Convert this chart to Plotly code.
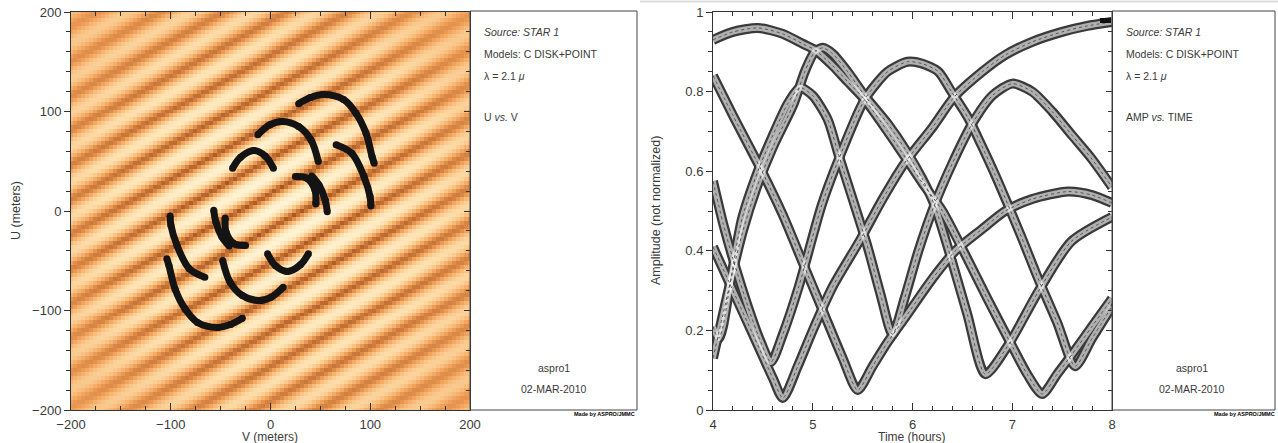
import numpy as np
import plotly.graph_objects as go

W, H = 1278, 443

# ---------------- uv tracks (V, U in meters), one half of each baseline ----------------
ARC1_V = [28.2, 40.0, 52.8, 73.2, 85.5, 95.7, 101.8, 103.9]
ARC1_U = [107.9, 114.0, 117.0, 112.0, 98.5, 78.3, 54.8, 48.0]
ARC2_V = [-12.7, -0.4, 11.9, 28.2, 40.5, 47.9]
ARC2_U = [76.6, 86.7, 90.0, 85.0, 71.6, 49.7]
ARC3_V = [-38.0, -30.0, -16.8, -5.0, 2.9]
ARC3_U = [43.0, 54.0, 60.8, 55.0, 43.0]
ARC4_V = [65.8, 81.4, 93.7, 99.8, 100.6]
ARC4_U = [66.6, 58.0, 34.6, 14.5, 5.0]
ARC5_V = [25.0, 36.4, 44.6, 45.4]
ARC5_U = [34.6, 33.0, 21.0, 7.0]
ARC6_V = [41.3, 48.7, 54.8, 56.9]
ARC6_U = [35.3, 26.0, 11.0, -0.7]

# ---------------- model parameters for the background map ----------------
POINT_FLUX = 0.5
DISK_FLUX = 0.5
FRINGE_PERIOD_U = 34.8   # m, fringe period along U
FRINGE_SLOPE = 0.55      # dU/dV of the fringes
DISK_SCALE = 240.0       # m, envelope scale
V_GRID = np.linspace(-200, 200, 101)
U_GRID = np.linspace(-200, 200, 101)

# ---------------- amplitude vs time ----------------
T_A = [4.0, 4.2, 4.45, 4.7, 4.9, 5.02, 5.2, 5.35, 5.52, 5.75, 5.94, 6.1, 6.3, 6.53, 6.75, 7.0, 7.15, 7.3, 7.45, 7.6, 7.8, 8.0]
A_A = [0.93, 0.95, 0.96, 0.945, 0.92, 0.905, 0.865, 0.825, 0.78, 0.70, 0.63, 0.57, 0.50, 0.39, 0.28, 0.16, 0.09, 0.04, 0.09, 0.14, 0.21, 0.28]
T_B = [4.0, 4.1, 4.2, 4.3, 4.44, 4.6, 4.81, 4.92, 5.02, 5.1, 5.2, 5.35, 5.52, 5.75, 5.94, 6.1, 6.22, 6.4, 6.55, 6.73, 6.96, 7.26, 7.59, 8.0]
A_B = [0.13, 0.24, 0.35, 0.45, 0.56, 0.66, 0.77, 0.85, 0.90, 0.91, 0.895, 0.85, 0.79, 0.72, 0.65, 0.58, 0.515, 0.37, 0.24, 0.09, 0.163, 0.297, 0.423, 0.485]
T_C = [4.0, 4.1, 4.2, 4.35, 4.48, 4.58, 4.7, 4.86, 5.09, 5.26, 5.52, 5.75, 5.95, 6.1, 6.26, 6.39, 6.56, 6.69, 6.83, 6.95, 7.1, 7.26, 7.45, 7.63, 7.8, 8.0]
A_C = [0.575, 0.47, 0.38, 0.26, 0.17, 0.12, 0.19, 0.31, 0.515, 0.63, 0.78, 0.85, 0.875, 0.87, 0.85, 0.80, 0.733, 0.666, 0.59, 0.52, 0.43, 0.33, 0.22, 0.11, 0.18, 0.26]
T_R = [4.0, 4.2, 4.4, 4.6, 4.7, 4.85, 5.0, 5.2, 5.47, 5.7, 5.92, 6.2, 6.42, 6.7, 6.93, 7.2, 7.5, 7.75, 8.0]
A_R = [0.41, 0.30, 0.19, 0.08, 0.03, 0.11, 0.2, 0.31, 0.425, 0.53, 0.62, 0.71, 0.787, 0.85, 0.892, 0.925, 0.95, 0.965, 0.975]
T_Q = [4.0, 4.2, 4.49, 4.7, 4.9, 5.1, 5.3, 5.45, 5.6, 5.75, 5.92, 6.2, 6.43, 6.7, 6.93, 7.2, 7.56, 7.8, 8.0]
A_Q = [0.84, 0.74, 0.60, 0.49, 0.37, 0.25, 0.13, 0.05, 0.11, 0.17, 0.23, 0.33, 0.40, 0.455, 0.50, 0.53, 0.549, 0.54, 0.52]
T_D = [4.0, 4.03, 4.06, 4.1, 4.18, 4.29, 4.45, 4.6, 4.75, 4.87, 5.0, 5.15, 5.26, 5.4, 5.55, 5.68, 5.8, 5.92, 6.06, 6.22, 6.4, 6.6, 6.8, 7.0, 7.2, 7.4, 7.6, 7.8, 8.0]
A_D = [0.21, 0.19, 0.18, 0.21, 0.33, 0.48, 0.60, 0.69, 0.77, 0.81, 0.79, 0.73, 0.64, 0.53, 0.41, 0.29, 0.19, 0.28, 0.40, 0.515, 0.62, 0.72, 0.79, 0.82, 0.80, 0.75, 0.69, 0.63, 0.56]

# ---------------- labels ----------------
INFO_LINES = ["<i>Source: STAR 1</i>", "Models: C DISK+POINT", "λ = 2.1 <i>μ</i>"]
LEFT_TAG = "U <i>vs.</i> V"
RIGHT_TAG = "AMP <i>vs.</i> TIME"
FOOT = ["aspro1", "02-MAR-2010"]
MADE_BY = "Made by ASPRO/JMMC"

FONT = "Liberation Sans, Arial, sans-serif"
TXT = "#3a3a3a"


def fx(p):
    return p / W


def fy(p):
    return 1 - p / H


# background model map
VV, UU = np.meshgrid(V_GRID, U_GRID)
phase = 2 * np.pi * (UU - FRINGE_SLOPE * VV) / FRINGE_PERIOD_U
vd = np.exp(-(VV ** 2 + UU ** 2) / DISK_SCALE ** 2)
Z = np.abs(DISK_FLUX * vd + POINT_FLUX * np.exp(1j * phase))

fig = go.Figure()
fig.add_trace(go.Heatmap(
    x=V_GRID, y=U_GRID, z=Z, zmin=0, zmax=1, zsmooth=False, showscale=False,
    hoverinfo="skip", xaxis="x", yaxis="y",
    colorscale=[[0.0, "#a5561f"], [0.2, "#c8773a"], [0.42, "#f0a058"],
                [0.6, "#f8bf80"], [0.8, "#fde0ae"], [1.0, "#fff4d6"]]))

arcs = [(ARC1_V, ARC1_U), (ARC2_V, ARC2_U), (ARC3_V, ARC3_U),
        (ARC4_V, ARC4_U), (ARC5_V, ARC5_U), (ARC6_V, ARC6_U)]
for vs, us in arcs:
    for sgn in (1, -1):
        fig.add_trace(go.Scatter(
            x=[sgn * v for v in vs], y=[sgn * u for u in us], mode="lines+markers",
            line=dict(color="#141414", width=7, shape="spline", smoothing=1.0),
            marker=dict(size=7, color="#141414"),
            hoverinfo="skip", showlegend=False, xaxis="x", yaxis="y"))

curves = [(T_A, A_A), (T_B, A_B), (T_C, A_C), (T_R, A_R), (T_Q, A_Q), (T_D, A_D)]
for ts, amps in curves:
    fig.add_trace(go.Scatter(
        x=ts, y=amps, mode="lines",
        line=dict(color="#3a3a3a", width=10, shape="spline", smoothing=0.7),
        hoverinfo="skip", showlegend=False, xaxis="x2", yaxis="y2"))
for ts, amps in curves:
    fig.add_trace(go.Scatter(
        x=ts, y=amps, mode="lines",
        line=dict(color="#ffffff", width=5.5, shape="spline", smoothing=0.7),
        opacity=0.6, hoverinfo="skip", showlegend=False, xaxis="x2", yaxis="y2"))
for ts, amps in curves:
    fig.add_trace(go.Scatter(
        x=ts, y=amps, mode="lines",
        line=dict(color="#555555", width=1, dash="dot", shape="spline", smoothing=0.7),
        hoverinfo="skip", showlegend=False, xaxis="x2", yaxis="y2"))

# invisible traces to attach the right-side tick axes
fig.add_trace(go.Scatter(x=[0], y=[0], mode="markers", marker=dict(opacity=0),
                         hoverinfo="skip", showlegend=False, xaxis="x", yaxis="y3"))
fig.add_trace(go.Scatter(x=[6], y=[0.5], mode="markers", marker=dict(opacity=0),
                         hoverinfo="skip", showlegend=False, xaxis="x2", yaxis="y4"))

ydom = [fy(410), fy(12)]
tickfont = dict(family=FONT, size=13, color=TXT)
common = dict(showgrid=False, zeroline=False, showline=True, linecolor="#333",
              linewidth=1, tickcolor="#333", tickfont=tickfont, automargin=False)

fig.update_layout(
    width=W, height=H, margin=dict(l=0, r=0, t=0, b=0, autoexpand=False),
    paper_bgcolor="white", plot_bgcolor="white", showlegend=False,
    xaxis=dict(domain=[fx(71), fx(470)], range=[-200, 200], anchor="y",
               tick0=0, dtick=100, ticks="inside", ticklen=7, mirror="ticks",
               minor=dict(dtick=25, ticks="inside", ticklen=4, tickcolor="#333"),
               ticklabelstandoff=2, **common),
    yaxis=dict(domain=ydom, range=[-200, 200], anchor="x",
               tick0=0, dtick=100, ticks="outside", ticklen=6, mirror=True,
               minor=dict(dtick=20, ticks="outside", ticklen=4, tickcolor="#333"),
               **common),
    yaxis3=dict(overlaying="y", side="right", anchor="x", range=[-200, 200],
                tick0=0, dtick=100, ticks="inside", ticklen=6, showticklabels=False,
                minor=dict(dtick=20, ticks="inside", ticklen=4, tickcolor="#333"),
                showgrid=False, zeroline=False, showline=False, tickcolor="#333",
                automargin=False),
    xaxis2=dict(domain=[fx(713), fx(1112)], range=[4, 8], anchor="y2",
                tick0=4, dtick=1, ticks="inside", ticklen=7, mirror="ticks",
                minor=dict(dtick=0.2, ticks="inside", ticklen=4, tickcolor="#333"),
                ticklabelstandoff=2, **common),
    yaxis2=dict(domain=ydom, range=[0, 1], anchor="x2",
                tick0=0, dtick=0.2, ticks="outside", ticklen=6, mirror=True,
                minor=dict(dtick=0.05, ticks="outside", ticklen=4, tickcolor="#333"),
                **common),
    yaxis4=dict(overlaying="y2", side="right", anchor="x2", range=[0, 1],
                tick0=0, dtick=0.2, ticks="inside", ticklen=6, showticklabels=False,
                minor=dict(dtick=0.05, ticks="inside", ticklen=4, tickcolor="#333"),
                showgrid=False, zeroline=False, showline=False, tickcolor="#333",
                automargin=False),
)

shapes = [
    dict(type="rect", xref="paper", yref="paper", x0=fx(470), x1=fx(637),
         y0=fy(410), y1=fy(11), line=dict(color="#444", width=1)),
    dict(type="rect", xref="paper", yref="paper", x0=fx(1112), x1=fx(1275),
         y0=fy(410), y1=fy(11), line=dict(color="#444", width=1)),
    dict(type="line", xref="paper", yref="paper", x0=fx(640), x1=1,
         y0=fy(1.5), y1=fy(1.5), line=dict(color="#dddddd", width=2)),
    dict(type="rect", xref="paper", yref="paper", x0=fx(1100), x1=fx(1111),
         y0=fy(23), y1=fy(18), line=dict(width=0), fillcolor="#111"),
]
fig.update_layout(shapes=shapes)

ann = []


def text(x, y, s, size=10.5, xanchor="left", angle=0, color=TXT, weight="normal"):
    ann.append(dict(xref="paper", yref="paper", x=fx(x), y=fy(y), text=s,
                    showarrow=False, xanchor=xanchor, yanchor="middle", textangle=angle,
                    font=dict(family=FONT, size=size, color=color, weight=weight)))


for bx, tag in ((482, LEFT_TAG), (1124, RIGHT_TAG)):
    for i, line in enumerate(INFO_LINES):
        text(bx, 32 + 22 * i, line)
    text(bx, 117, tag)

text(554, 368, FOOT[0], xanchor="center")
text(554, 389, FOOT[1], xanchor="center")
text(1192, 368, FOOT[0], xanchor="center")
text(1192, 389, FOOT[1], xanchor="center")
text(637, 414, MADE_BY, size=5.5, xanchor="right", color="#000", weight="bold")
text(1277, 414, MADE_BY, size=5.5, xanchor="right", color="#000", weight="bold")

text(270, 437, "V (meters)", size=12, xanchor="center")
text(16, 211, "U (meters)", size=12.5, xanchor="center", angle=-90)
text(912, 437, "Time (hours)", size=12, xanchor="center")
text(656, 211, "Amplitude (not normalized)", size=12.5, xanchor="center", angle=-90)

fig.update_layout(annotations=ann)
fig.write_html("out.html")
